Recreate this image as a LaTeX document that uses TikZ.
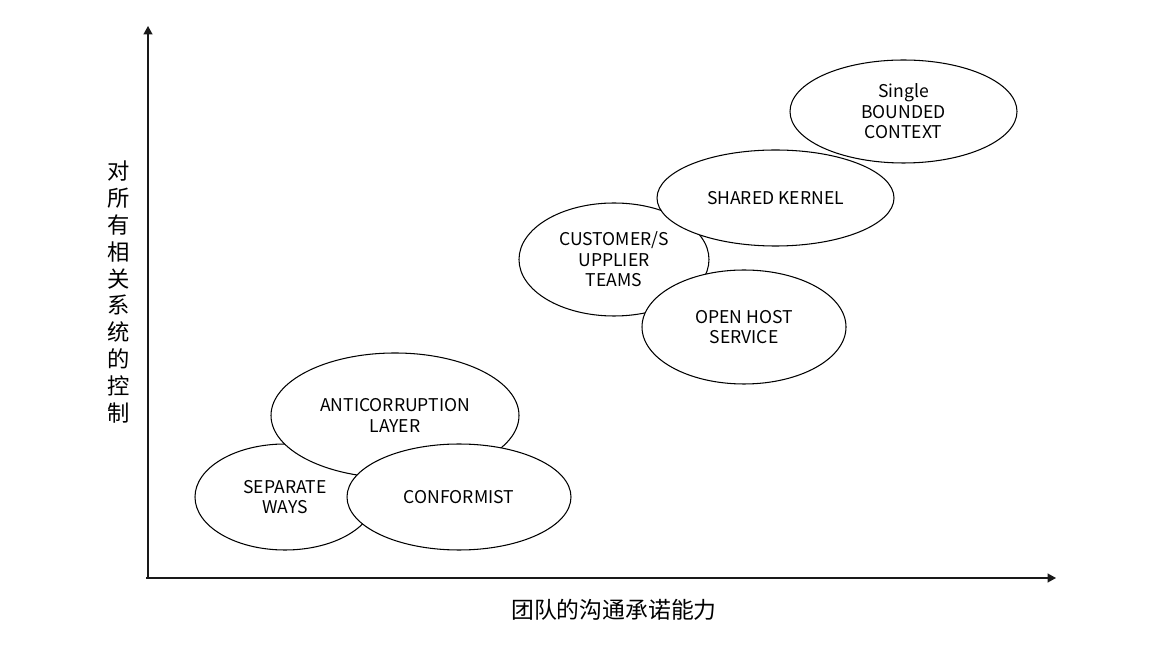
\documentclass[tikz,border=0pt]{standalone}
\usepackage{fontspec}
\setmainfont{Noto Sans CJK SC}
\usetikzlibrary{arrows.meta,shapes.geometric}
\tikzset{
  ctx/.style={draw=black, line width=0.6pt, fill=white, ellipse, inner sep=0pt,
              font=\fontsize{10}{11.6}\selectfont, align=center},
  axis/.style={-{Triangle[length=1.7mm,width=1.8mm]}, line width=0.8pt, black!90},
  axislabel/.style={font=\fontsize{12.7}{15.3}\selectfont, align=center, inner sep=0pt},
}

\begin{document}
\begin{tikzpicture}[x=0.02cm, y=-0.02cm]
  \useasboundingbox (0,0) rectangle (1170,651);

  % axes
  \coordinate (o) at (148,578);
  \coordinate (ytop) at (148,26);
  \coordinate (xend) at (1056,578);
  \draw[axis] (o) -- (ytop);
  \draw[axis] (146,578) -- (xend);

  \node[axislabel] (ylab) at (119,292)
    {对\\所\\有\\相\\关\\系\\统\\的\\控\\制};
  \node[axislabel, font=\fontsize{13}{15.3}\selectfont] (xlab) at (614,610) {团队的沟通承诺能力};

  % lower left group
  \node[ctx, minimum width=180*0.02cm, minimum height=106*0.02cm] (sep) at (285,497)
    {SEPARATE\\WAYS};
  \node[ctx, minimum width=248*0.02cm, minimum height=125*0.02cm] (acl) at (395,415.5)
    {ANTICORRUPTION\\LAYER};
  \node[ctx, minimum width=224*0.02cm, minimum height=106*0.02cm] (conf) at (459,497)
    {CONFORMIST};

  % upper right group
  \node[ctx, minimum width=190*0.02cm, minimum height=113*0.02cm] (cs) at (614,259.5)
    {CUSTOMER/S\\UPPLIER\\TEAMS};
  \node[ctx, minimum width=237*0.02cm, minimum height=96*0.02cm] (sk) at (775.5,198)
    {SHARED KERNEL};
  \node[ctx, minimum width=204*0.02cm, minimum height=114*0.02cm] (ohs) at (744,327)
    {OPEN HOST\\SERVICE};
  \node[ctx, minimum width=227*0.02cm, minimum height=103*0.02cm] (bc) at (903.5,111.5)
    {Single\\BOUNDED\\CONTEXT};
\end{tikzpicture}
\end{document}
